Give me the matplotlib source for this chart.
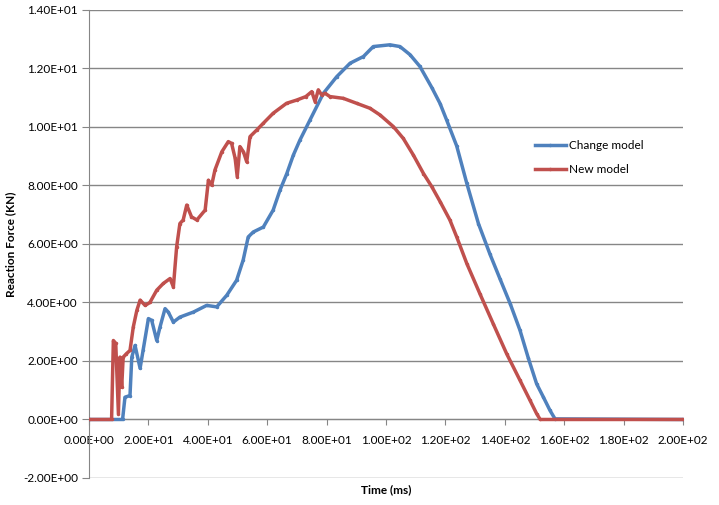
import matplotlib
matplotlib.use('Agg')
import matplotlib.pyplot as plt

# Change model (blue)
change_x = [0, 11.3, 12.1, 13.8, 14.4, 15.5, 17.2, 18.2, 20.0, 21.1, 22.8, 23.9, 25.6, 26.7,
            28.4, 30.6, 35.1, 39.6, 43.0, 46.4, 49.7, 51.9, 53.6, 55.3, 58.7, 62.0, 64.3,
            66.6, 68.8, 71.0, 74.4, 78.9, 83.4, 87.9, 92.4, 95.7, 101.3, 104.7, 108.1,
            111.4, 115.4, 118.2, 120.4, 123.8, 127.2, 131.1, 135.0, 138.4, 141.8, 145.1,
            147.9, 150.7, 153.0, 155.2, 156.9, 200]
change_y = [0, 0, 0.76, 0.82, 2.13, 2.53, 1.75, 2.36, 3.45, 3.39, 2.7, 3.16, 3.79, 3.67,
            3.33, 3.5, 3.67, 3.9, 3.85, 4.25, 4.76, 5.45, 6.24, 6.41, 6.58, 7.16, 7.84,
            8.41, 9.04, 9.55, 10.24, 11.15, 11.72, 12.18, 12.41, 12.75, 12.81, 12.75, 12.47,
            12.07, 11.35, 10.8, 10.24, 9.35, 8.07, 6.7, 5.65, 4.8, 3.96, 3.05,
            2.1, 1.22, 0.76, 0.31, 0.02, 0]

# New model (red)
new_x = [0, 7.6, 8.2, 9.0, 9.9, 10.4, 11.0, 11.5, 12.6, 13.8, 14.9, 16.1, 17.2, 18.9, 20.5,
         22.8, 25.0, 27.3, 28.4, 29.5, 30.6, 31.7, 32.9, 34.5, 36.3, 39.1, 40.2, 41.3, 42.4,
         44.7, 46.9, 48.0, 49.2, 49.9, 50.8, 52.0, 53.1, 54.2, 56.5, 58.7, 62.0, 66.5, 69.9,
         73.0, 75.0, 76.1, 77.2, 78.3, 79.5, 81.1, 85.6, 90.1, 94.6, 98.0, 102.5, 105.8, 109.2,
         112.6, 115.4, 118.2, 121.5, 123.8, 127.2, 131.6, 136.1, 140.6, 145.1, 148.5, 150.7,
         151.9, 200]
new_y = [0, 0, 2.7, 2.6, 0.2, 2.13, 1.1, 2.13, 2.25, 2.36, 3.16, 3.73, 4.08, 3.9, 4.0,
         4.42, 4.65, 4.82, 4.53, 5.9, 6.7, 6.82, 7.33, 6.93, 6.82, 7.16, 8.18, 8.01, 8.53,
         9.15, 9.5, 9.44, 8.93, 8.3, 9.33, 9.15, 8.81, 9.67, 9.9, 10.13, 10.47, 10.81, 10.92,
         11.04, 11.21, 10.87, 11.27, 11.1, 11.15, 11.04, 10.98, 10.81, 10.64, 10.41, 10.01, 9.61, 9.04,
         8.41, 7.96, 7.45, 6.82, 6.24, 5.33, 4.3, 3.27, 2.25, 1.34, 0.65, 0.2,
         0, 0]

x_ticks = [0, 20, 40, 60, 80, 100, 120, 140, 160, 180, 200]
y_ticks = [-2, 0, 2, 4, 6, 8, 10, 12, 14]

plt.rcParams['font.family'] = ['Lato', 'DejaVu Sans']
plt.rcParams['font.size'] = 8.5

fig = plt.figure(figsize=(7.19, 5.05), dpi=100)
ax = fig.add_axes([0.1238, 0.0535, 0.8262, 0.9267])

for yv in y_ticks:
    ax.axhline(yv, color='#868686', lw=1, zorder=1)

ax.plot(change_x, change_y, color='#4F81BD', lw=2.5, marker='o', ms=1.5,
        label='Change model', zorder=3)
ax.plot(new_x, new_y, color='#C0504D', lw=2.5, marker='o', ms=1.5,
        label='New model', zorder=4)

ax.set_xlim(0, 200)
ax.set_ylim(-2, 14)
ax.set_xticks(x_ticks)
ax.set_yticks(y_ticks)
ax.set_xticklabels([f'{v:.2E}' for v in x_ticks])
ax.set_yticklabels([f'{v:.2E}' for v in y_ticks])

ax.spines['top'].set_visible(False)
ax.spines['right'].set_visible(False)
ax.spines['bottom'].set_position(('data', 0))
ax.spines['bottom'].set_color('#868686')
ax.spines['left'].set_color('#868686')
ax.tick_params(axis='y', length=5, color='#868686', pad=3)
ax.tick_params(axis='x', length=4, color='#868686', pad=7)

ax.set_ylabel('Reaction Force (KN)', fontweight='bold', labelpad=5)
fig.text((89 + 683) / 2 / 719, 1 - 490 / 505, 'Time (ms)', fontweight='bold',
         ha='center', va='center')

ax.legend(loc='center left', bbox_to_anchor=(0.733, 0.684), frameon=False,
          handlelength=2.6, handletextpad=0.3, labelspacing=1.1)

fig.savefig('out.png', dpi=100)
